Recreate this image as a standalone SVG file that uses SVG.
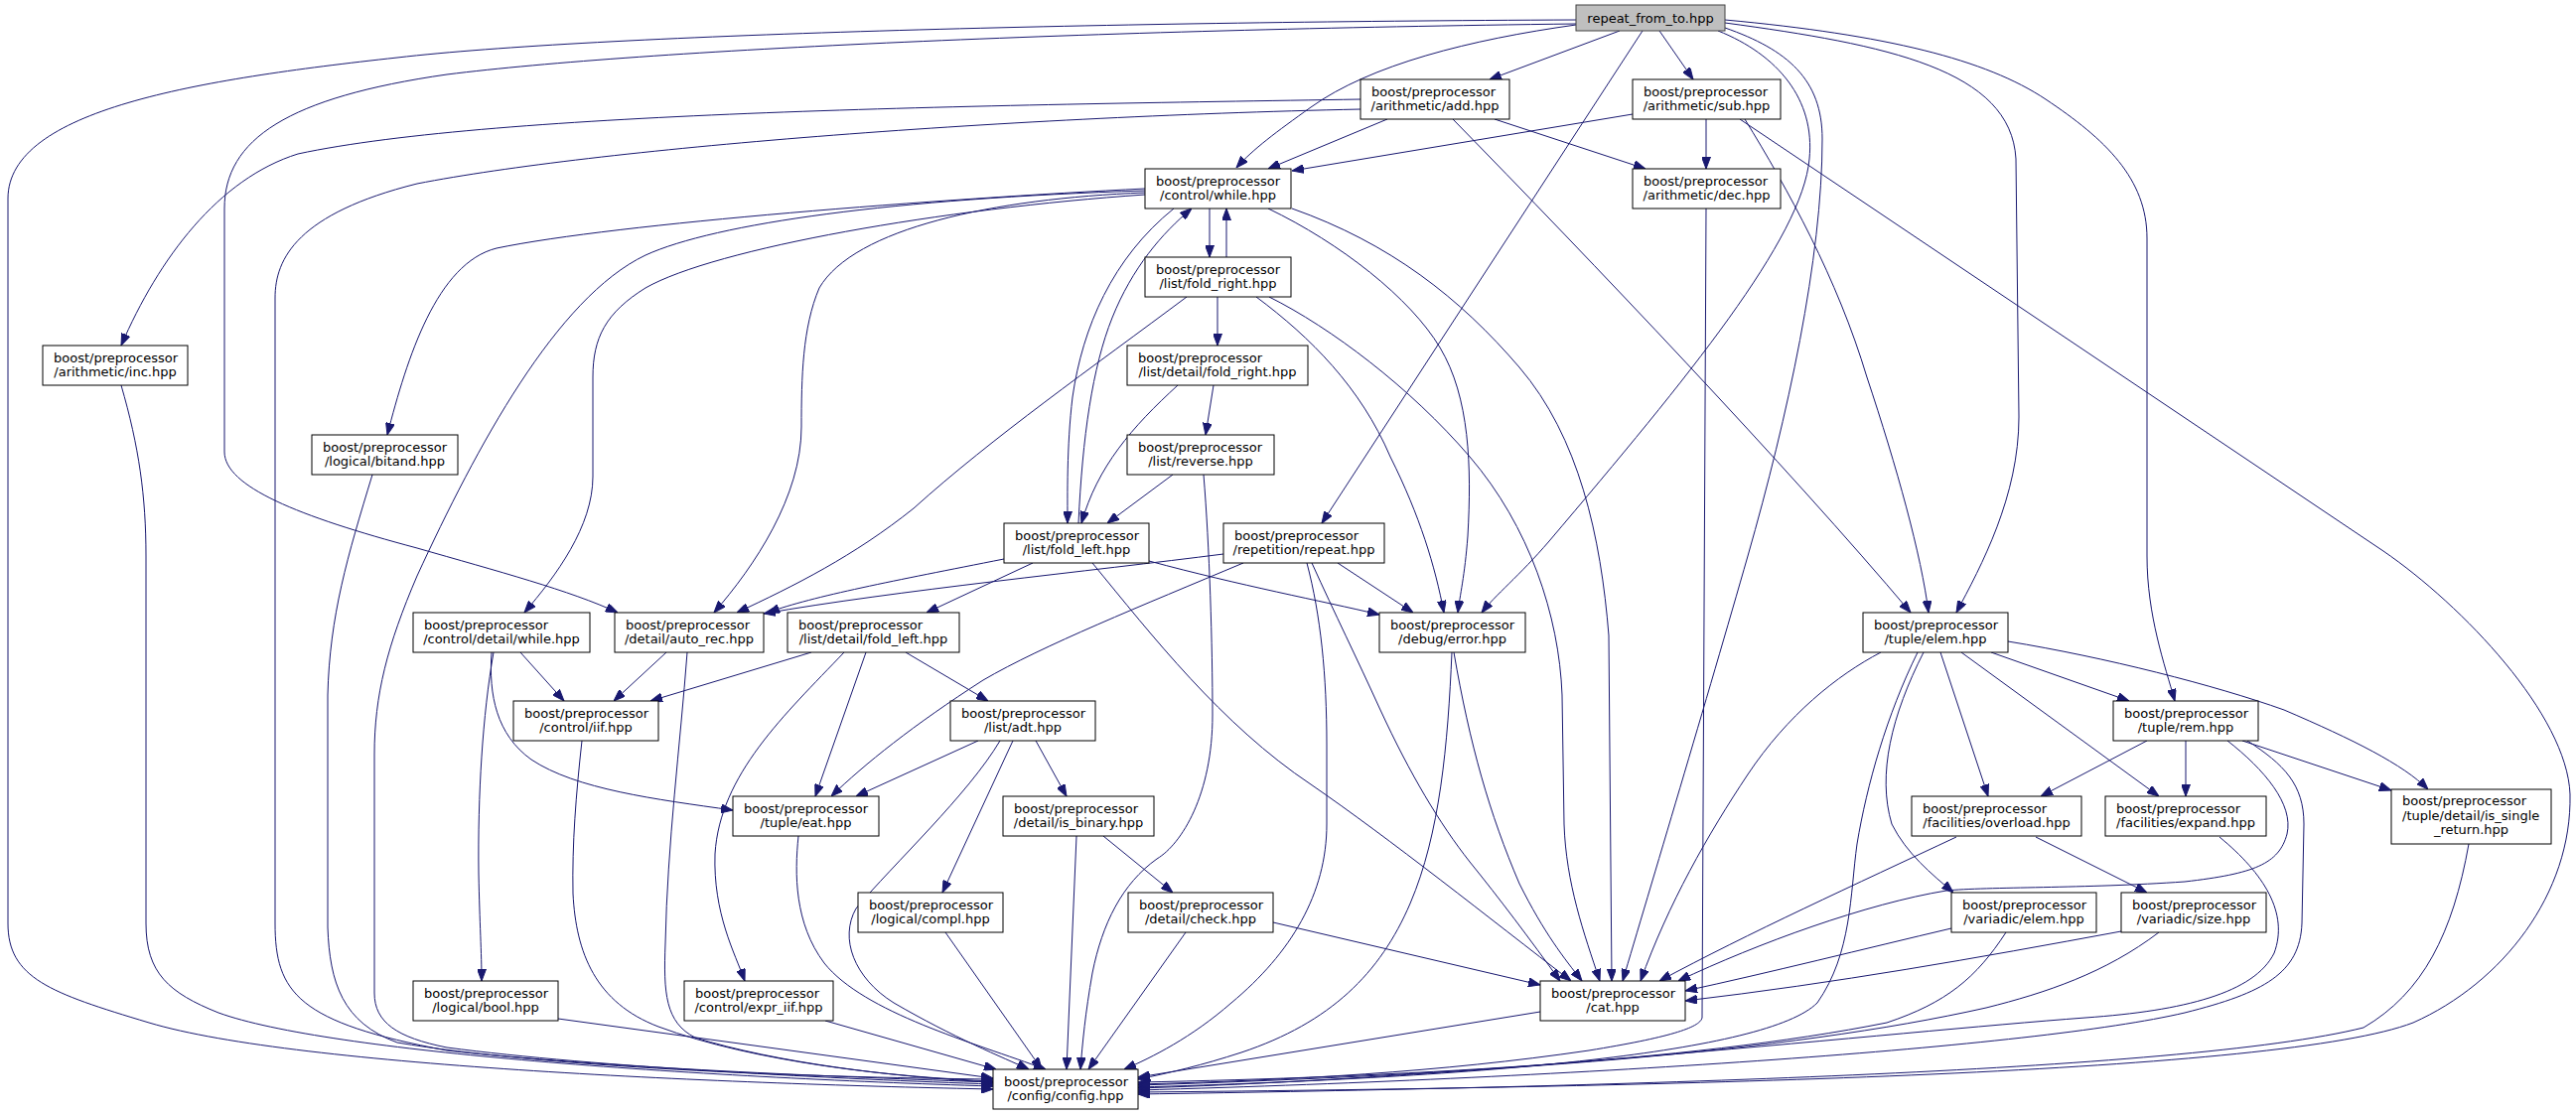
<svg xmlns="http://www.w3.org/2000/svg" width="2594" height="1124" viewBox="0 0 2594 1124">
<defs>
<style>
.node rect{fill:#ffffff;stroke:#000000;stroke-width:1}
.node.root rect{fill:#bfbfbf;stroke:#404040}
.node text{font-family:"DejaVu Sans","Liberation Sans",sans-serif;font-size:13px;fill:#000000}
.node text.c{text-anchor:middle}
.edges path{fill:none;stroke:#191970;stroke-width:1;marker-end:url(#arr)}
</style>
<marker id="arr" viewBox="0 0 12 9" refX="12" refY="4.5" markerWidth="12" markerHeight="9" markerUnits="userSpaceOnUse" orient="auto">
<path d="M0,0 L12,4.5 L0,9 z" fill="#191970" stroke="#191970" stroke-width="1"/>
</marker>
</defs>
<rect x="0" y="0" width="2594" height="1124" fill="#ffffff"/>
<g id="edges" class="edges">
<path d="M1587,20 C1100,22 600,35 400,58 C200,80 8,110 8,200 L8,930 C8,985 50,1000 150,1030 C300,1075 750,1092 1000,1097"/>
<path d="M1587,24 C1100,30 650,50 450,75 C290,98 226,140 226,210 L226,455 C226,490 300,520 420,552 C500,575 575,595 622,617"/>
<path d="M1587,25 C1480,40 1380,65 1320,108 C1285,133 1262,150 1245,169"/>
<path d="M1631,31 L1500,80"/>
<path d="M1671,31 L1705,80"/>
<path d="M1654,31 L1331,527"/>
<path d="M1730,31 C1790,55 1828,100 1822,160 C1815,240 1700,380 1560,545 C1530,580 1505,600 1492,617"/>
<path d="M1737,28 C1800,50 1835,80 1835,140 C1835,260 1800,420 1760,560 C1720,700 1660,900 1634,988"/>
<path d="M1737,23 C1900,45 2025,70 2030,160 L2033,420 C2033,500 1995,570 1970,617"/>
<path d="M1737,20 C1900,35 2000,60 2060,100 C2120,140 2162,180 2162,240 L2162,560 C2162,620 2180,670 2190,706"/>
<path d="M1370,100 C1000,106 500,112 300,155 C220,180 160,260 122,348"/>
<path d="M1370,110 C1000,118 600,150 420,185 C300,215 277,260 277,300 L277,930 C277,1000 300,1030 450,1058 C600,1075 850,1085 1000,1090"/>
<path d="M1397,120 L1277,170"/>
<path d="M1505,120 L1657,170"/>
<path d="M1463,120 C1600,260 1800,470 1924,617"/>
<path d="M1644,115 L1301,172"/>
<path d="M1718,120 L1718,170"/>
<path d="M1757,120 C1800,190 1850,280 1880,380 C1910,470 1935,560 1942,617"/>
<path d="M1752,120 L2400,555 C2480,610 2585,720 2588,800 C2590,900 2520,990 2430,1030 C2300,1080 1700,1095 1146,1100"/>
<path d="M1718,210 L1714,1025 C1712,1035 1680,1045 1600,1058 C1450,1080 1300,1088 1146,1092"/>
<path d="M122,388 C140,450 147,500 147,560 L147,930 C147,980 170,1000 220,1020 C330,1060 700,1085 1000,1094"/>
<path d="M1153,190 C950,200 620,225 500,250 C440,265 410,360 390,438"/>
<path d="M1153,192 C900,200 720,225 650,257 C560,300 480,450 420,580 C390,650 377,700 377,760 L377,1000 C377,1030 400,1045 450,1055 C600,1075 850,1087 1000,1092"/>
<path d="M1153,196 C950,210 720,250 650,290 C610,315 597,340 597,380 L597,480 C597,530 560,580 528,617"/>
<path d="M1153,194 C1000,200 860,230 825,290 C808,330 807,380 807,430 C807,500 760,570 719,617"/>
<path d="M1218,210 L1218,259"/>
<path d="M1182,210 C1120,260 1090,330 1080,400 C1074,450 1075,500 1075,527"/>
<path d="M1277,210 C1350,245 1420,300 1450,350 C1480,400 1482,470 1478,540 C1475,580 1470,600 1468,617"/>
<path d="M1301,210 C1400,245 1470,300 1530,370 C1590,440 1612,540 1620,640 L1623,988"/>
<path d="M1235,259 L1235,210"/>
<path d="M1226,299 L1226,348"/>
<path d="M1195,299 C1100,370 1000,440 920,512 C860,560 800,590 742,617"/>
<path d="M1265,299 C1320,340 1370,390 1400,460 C1430,520 1445,570 1454,617"/>
<path d="M1278,299 C1340,330 1420,390 1480,460 C1540,530 1570,620 1573,700 L1575,830 C1577,890 1595,940 1611,988"/>
<path d="M1222,388 L1214,438"/>
<path d="M1186,388 C1140,430 1105,470 1089,527"/>
<path d="M1181,478 L1115,527"/>
<path d="M1212,478 C1218,550 1221,650 1221,720 C1221,800 1190,850 1165,865 C1130,890 1110,930 1100,980 C1093,1020 1090,1050 1088,1077"/>
<path d="M1086,527 C1090,440 1100,370 1120,320 C1140,270 1170,235 1200,210"/>
<path d="M1011,563 C900,585 820,600 773,617"/>
<path d="M1040,567 L933,617"/>
<path d="M1157,565 C1250,590 1330,605 1389,619"/>
<path d="M1100,567 C1160,640 1230,730 1320,790 C1400,845 1500,925 1582,988"/>
<path d="M1232,558 C1100,575 900,595 769,618"/>
<path d="M1252,567 C1150,610 1050,650 990,685 C920,730 870,770 837,802"/>
<path d="M1347,567 L1423,617"/>
<path d="M1321,567 C1345,620 1365,660 1390,715 C1420,780 1450,830 1480,868 C1510,905 1540,945 1571,988"/>
<path d="M1316,567 C1330,620 1336,680 1336,750 L1336,830 C1336,900 1300,960 1240,1010 C1200,1045 1160,1065 1132,1077"/>
<path d="M524,657 L568,706"/>
<path d="M497,657 C486,720 481,800 482,880 C483,930 485,960 485,988"/>
<path d="M495,657 C492,700 500,740 535,765 C580,795 660,805 738,816"/>
<path d="M671,657 L618,706"/>
<path d="M692,657 C685,750 672,850 670,950 C668,1000 670,1030 700,1045 C780,1070 900,1085 1000,1090"/>
<path d="M817,657 L655,706"/>
<path d="M850,657 C790,720 725,780 720,860 C718,920 740,960 750,988"/>
<path d="M872,657 L821,802"/>
<path d="M912,657 L995,706"/>
<path d="M1464,657 C1480,750 1500,820 1530,890 C1555,940 1575,965 1593,988"/>
<path d="M1462,657 C1458,750 1450,840 1420,910 C1390,980 1340,1030 1250,1060 C1210,1073 1180,1080 1146,1087"/>
<path d="M1894,657 C1850,680 1800,720 1760,780 C1720,840 1680,910 1652,988"/>
<path d="M1931,657 C1900,720 1880,790 1870,850 C1863,900 1865,960 1830,1010 C1780,1060 1500,1085 1146,1095"/>
<path d="M1937,657 C1905,720 1890,780 1905,830 C1920,860 1945,880 1967,899"/>
<path d="M1954,657 L2002,802"/>
<path d="M1975,657 L2174,802"/>
<path d="M2005,657 L2144,706"/>
<path d="M2022,646 C2120,662 2230,690 2300,715 C2370,745 2420,770 2445,795"/>
<path d="M2162,746 L2055,802"/>
<path d="M2201,746 L2201,802"/>
<path d="M2258,746 L2408,796"/>
<path d="M2243,746 C2280,775 2310,810 2303,840 C2295,870 2270,880 2200,888 C2100,895 2000,893 1960,897 C1880,910 1770,950 1690,988"/>
<path d="M2263,746 C2300,770 2320,790 2320,830 L2318,930 C2316,980 2280,1000 2200,1020 C2050,1055 1600,1085 1146,1098"/>
<path d="M1970,843 C1870,890 1760,940 1671,988"/>
<path d="M2050,843 L2162,899"/>
<path d="M2235,843 C2280,880 2305,920 2290,960 C2270,1000 2200,1018 2100,1025 C1900,1040 1500,1085 1146,1096"/>
<path d="M2486,850 C2470,940 2440,1000 2380,1035 C2200,1080 1600,1095 1146,1102"/>
<path d="M1965,935 C1880,955 1780,980 1697,998"/>
<path d="M2020,939 C1990,985 1960,1010 1900,1030 C1700,1070 1400,1085 1146,1090"/>
<path d="M2136,938 C1990,965 1850,990 1697,1008"/>
<path d="M2174,939 C2120,980 2060,1000 2000,1015 C1800,1060 1500,1082 1146,1093"/>
<path d="M586,746 C580,800 576,850 577,900 C580,960 600,1010 663,1034 C760,1070 900,1085 1000,1089"/>
<path d="M985,746 L862,802"/>
<path d="M1007,746 C975,800 900,870 862,915 C845,945 860,985 900,1010 C960,1045 1010,1065 1036,1077"/>
<path d="M1020,746 L949,899"/>
<path d="M1043,746 L1074,802"/>
<path d="M804,842 C800,880 800,930 830,970 C870,1020 980,1050 1053,1077"/>
<path d="M1084,842 L1074,1077"/>
<path d="M1111,842 L1181,899"/>
<path d="M952,939 L1049,1077"/>
<path d="M1194,939 L1096,1077"/>
<path d="M1282,929 L1551,992"/>
<path d="M562,1026 L1000,1086"/>
<path d="M831,1028 L1003,1077"/>
<path d="M375,478 C350,560 332,620 330,700 L330,934 C332,990 345,1030 400,1050 C550,1075 800,1085 1000,1087"/>
<path d="M1551,1019 L1146,1085"/>
</g>
<g id="n_repeat_from_to" class="node root"><rect x="1587" y="5" width="150" height="26"/><text class="c" x="1662" y="22.5">repeat_from_to.hpp</text></g>
<g id="n_add" class="node"><rect x="1370" y="80" width="150" height="40"/><text x="1381" y="96.5">boost/preprocessor</text><text class="c" x="1445" y="111">/arithmetic/add.hpp</text></g>
<g id="n_sub" class="node"><rect x="1644" y="80" width="149" height="40"/><text x="1655" y="96.5">boost/preprocessor</text><text class="c" x="1718.5" y="111">/arithmetic/sub.hpp</text></g>
<g id="n_while" class="node"><rect x="1153" y="170" width="147" height="40"/><text x="1164" y="186.5">boost/preprocessor</text><text class="c" x="1226.5" y="201">/control/while.hpp</text></g>
<g id="n_dec" class="node"><rect x="1644" y="170" width="149" height="40"/><text x="1655" y="186.5">boost/preprocessor</text><text class="c" x="1718.5" y="201">/arithmetic/dec.hpp</text></g>
<g id="n_fold_right" class="node"><rect x="1153" y="259" width="147" height="40"/><text x="1164" y="275.5">boost/preprocessor</text><text class="c" x="1226.5" y="290">/list/fold_right.hpp</text></g>
<g id="n_inc" class="node"><rect x="43" y="348" width="146" height="40"/><text x="54" y="364.5">boost/preprocessor</text><text class="c" x="116" y="379">/arithmetic/inc.hpp</text></g>
<g id="n_detail_fold_right" class="node"><rect x="1135" y="348" width="182" height="40"/><text x="1146" y="364.5">boost/preprocessor</text><text class="c" x="1226" y="379">/list/detail/fold_right.hpp</text></g>
<g id="n_bitand" class="node"><rect x="314" y="438" width="147" height="40"/><text x="325" y="454.5">boost/preprocessor</text><text class="c" x="387.5" y="469">/logical/bitand.hpp</text></g>
<g id="n_reverse" class="node"><rect x="1135" y="438" width="148" height="40"/><text x="1146" y="454.5">boost/preprocessor</text><text class="c" x="1209" y="469">/list/reverse.hpp</text></g>
<g id="n_fold_left" class="node"><rect x="1011" y="527" width="146" height="40"/><text x="1022" y="543.5">boost/preprocessor</text><text class="c" x="1084" y="558">/list/fold_left.hpp</text></g>
<g id="n_repeat" class="node"><rect x="1232" y="527" width="162" height="40"/><text x="1243" y="543.5">boost/preprocessor</text><text class="c" x="1313" y="558">/repetition/repeat.hpp</text></g>
<g id="n_control_detail_while" class="node"><rect x="416" y="617" width="178" height="40"/><text x="427" y="633.5">boost/preprocessor</text><text class="c" x="505" y="648">/control/detail/while.hpp</text></g>
<g id="n_auto_rec" class="node"><rect x="619" y="617" width="150" height="40"/><text x="630" y="633.5">boost/preprocessor</text><text class="c" x="694" y="648">/detail/auto_rec.hpp</text></g>
<g id="n_detail_fold_left" class="node"><rect x="793" y="617" width="173" height="40"/><text x="804" y="633.5">boost/preprocessor</text><text class="c" x="879.5" y="648">/list/detail/fold_left.hpp</text></g>
<g id="n_error" class="node"><rect x="1389" y="617" width="147" height="40"/><text x="1400" y="633.5">boost/preprocessor</text><text class="c" x="1462.5" y="648">/debug/error.hpp</text></g>
<g id="n_tuple_elem" class="node"><rect x="1876" y="617" width="146" height="40"/><text x="1887" y="633.5">boost/preprocessor</text><text class="c" x="1949" y="648">/tuple/elem.hpp</text></g>
<g id="n_iif" class="node"><rect x="517" y="706" width="146" height="40"/><text x="528" y="722.5">boost/preprocessor</text><text class="c" x="590" y="737">/control/iif.hpp</text></g>
<g id="n_adt" class="node"><rect x="957" y="706" width="146" height="40"/><text x="968" y="722.5">boost/preprocessor</text><text class="c" x="1030" y="737">/list/adt.hpp</text></g>
<g id="n_rem" class="node"><rect x="2128" y="706" width="146" height="40"/><text x="2139" y="722.5">boost/preprocessor</text><text class="c" x="2201" y="737">/tuple/rem.hpp</text></g>
<g id="n_eat" class="node"><rect x="738" y="802" width="147" height="40"/><text x="749" y="818.5">boost/preprocessor</text><text class="c" x="811.5" y="833">/tuple/eat.hpp</text></g>
<g id="n_is_binary" class="node"><rect x="1010" y="802" width="152" height="40"/><text x="1021" y="818.5">boost/preprocessor</text><text class="c" x="1086" y="833">/detail/is_binary.hpp</text></g>
<g id="n_overload" class="node"><rect x="1925" y="802" width="171" height="40"/><text x="1936" y="818.5">boost/preprocessor</text><text class="c" x="2010.5" y="833">/facilities/overload.hpp</text></g>
<g id="n_expand" class="node"><rect x="2120" y="802" width="162" height="40"/><text x="2131" y="818.5">boost/preprocessor</text><text class="c" x="2201" y="833">/facilities/expand.hpp</text></g>
<g id="n_is_single_return" class="node"><rect x="2408" y="795" width="161" height="55"/><text x="2419" y="811">boost/preprocessor</text><text x="2419" y="825.5">/tuple/detail/is_single</text><text class="c" x="2488.5" y="840">_return.hpp</text></g>
<g id="n_compl" class="node"><rect x="864" y="899" width="146" height="40"/><text x="875" y="915.5">boost/preprocessor</text><text class="c" x="937" y="930">/logical/compl.hpp</text></g>
<g id="n_check" class="node"><rect x="1136" y="899" width="146" height="40"/><text x="1147" y="915.5">boost/preprocessor</text><text class="c" x="1209" y="930">/detail/check.hpp</text></g>
<g id="n_variadic_elem" class="node"><rect x="1965" y="899" width="146" height="40"/><text x="1976" y="915.5">boost/preprocessor</text><text class="c" x="2038" y="930">/variadic/elem.hpp</text></g>
<g id="n_variadic_size" class="node"><rect x="2136" y="899" width="146" height="40"/><text x="2147" y="915.5">boost/preprocessor</text><text class="c" x="2209" y="930">/variadic/size.hpp</text></g>
<g id="n_bool" class="node"><rect x="416" y="988" width="146" height="40"/><text x="427" y="1004.5">boost/preprocessor</text><text class="c" x="489" y="1019">/logical/bool.hpp</text></g>
<g id="n_expr_iif" class="node"><rect x="689" y="988" width="150" height="40"/><text x="700" y="1004.5">boost/preprocessor</text><text class="c" x="764" y="1019">/control/expr_iif.hpp</text></g>
<g id="n_cat" class="node"><rect x="1551" y="988" width="146" height="40"/><text x="1562" y="1004.5">boost/preprocessor</text><text class="c" x="1624" y="1019">/cat.hpp</text></g>
<g id="n_config" class="node"><rect x="1000" y="1077" width="146" height="40"/><text x="1011" y="1093.5">boost/preprocessor</text><text class="c" x="1073" y="1108">/config/config.hpp</text></g>
</svg>
